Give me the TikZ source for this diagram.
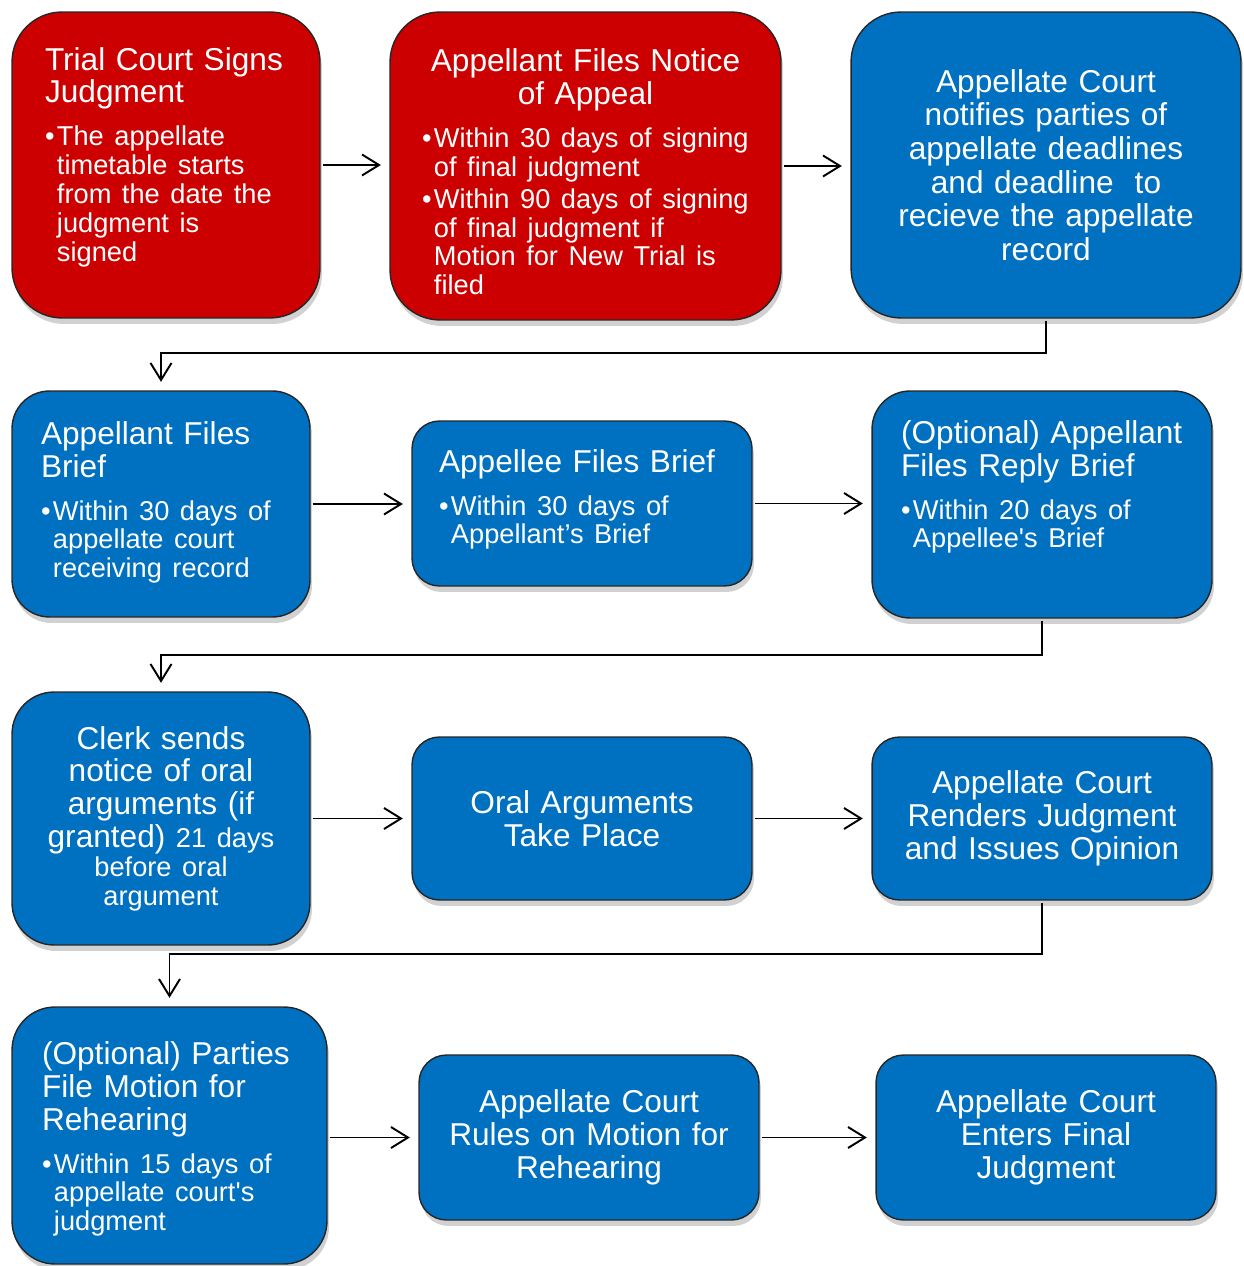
\documentclass[tikz,border=0pt]{standalone}
\usepackage{fontspec}
\setmainfont{Liberation Sans}
\usepackage{tikz}
\usetikzlibrary{arrows.meta,positioning,shadows}
\definecolor{courtred}{HTML}{CC0000}
\definecolor{courtblue}{HTML}{0070C0}
\newcommand{\ttlfont}{\fontsize{18}{18.7}\selectfont}
\newcommand{\bulfont}{\fontsize{15.5}{16.4}\selectfont}
\newcommand{\bul}[1]{\noindent\makebox[6.8pt][l]{\textbullet}\begin{tabular}[t]{@{}l@{}}#1\end{tabular}\par}
\tikzset{%
	stage/.style     = {draw=black!85, line width=0.8pt, rectangle, text=white, inner ysep=0pt, font=\ttlfont,
	                    drop shadow={shadow xshift=0.04cm, shadow yshift=-0.12cm, opacity=0.3, fill=black!60}},
	redstage/.style  = {stage, fill=courtred, align=left},
	bluestage/.style = {stage, fill=courtblue, align=left},
	midstage/.style  = {stage, fill=courtblue, align=center},
	arrow/.style     = {line width=1.1pt, -{Straight Barb[length=0.34cm,width=0.42cm]}, shorten >=0.17cm, shorten <=0.04cm},
}
\begin{document}
\begin{tikzpicture}[x=0.02cm,y=-0.02cm]
	\useasboundingbox (0,0) rectangle (1243,1266);
	
	% row 1
	\node[redstage, minimum width=6.16cm, minimum height=6.12cm, text width=4.84cm, inner xsep=0.66cm, rounded corners=1cm] (judgment) at (166,165)
	{{\ttlfont Trial Court Signs\\Judgment\par}\vspace{8pt}
	 {\bulfont\bul{The appellate\\timetable starts\\from the date the\\judgment is\\signed}}\vspace{0.26cm}};
	\node[redstage, minimum width=7.82cm, minimum height=6.16cm, text width=6.54cm, inner xsep=0.64cm, rounded corners=1cm] (notice) at (585.5,166)
	{{\centering\ttlfont Appellant Files Notice\\of Appeal\par}\vspace{8pt}
	 {\bulfont\bul{Within 30 days of signing\\of final judgment}}\vspace{1pt}
	 {\bulfont\bul{Within 90 days of signing\\of final judgment if\\Motion for New Trial is\\filed}}\vspace{-0.4cm}};
	\node[midstage, minimum width=7.8cm, minimum height=6.12cm, text width=6.8cm, inner xsep=0.5cm, rounded corners=1cm, font=\fontsize{18}{19.1}\selectfont] (record) at (1046,165)
	{Appellate Court\\notifies parties of\\appellate deadlines\\and deadline\ \ to\\recieve the appellate\\record};
	
	% row 2
	\node[bluestage, minimum width=5.96cm, minimum height=4.52cm, text width=4.8cm, inner xsep=0.58cm, rounded corners=0.75cm] (appbrief) at (161,504)
	{{\ttlfont Appellant Files\\Brief\par}\vspace{8pt}
	 {\bulfont\bul{Within 30 days of\\appellate court\\receiving record}}};
	\node[bluestage, minimum width=6.8cm, minimum height=3.3cm, text width=5.72cm, inner xsep=0.54cm, rounded corners=0.55cm] (apebrief) at (582,503.5)
	{{\ttlfont Appellee Files Brief\par}\vspace{8pt}
	 {\bulfont\bul{Within 30 days of\\Appellant’s Brief}}\vspace{0.1cm}};
	\node[bluestage, minimum width=6.8cm, minimum height=4.54cm, text width=5.64cm, inner xsep=0.58cm, rounded corners=0.76cm] (replybrief) at (1042,504.5)
	{{\ttlfont (Optional) Appellant\\Files Reply Brief\par}\vspace{8pt}
	 {\bulfont\bul{Within 20 days of\\Appellee\textquotesingle s Brief}}\vspace{0.64cm}};
	
	% row 3
	\node[midstage, minimum width=5.96cm, minimum height=5.06cm, text width=5.4cm, inner xsep=0.28cm, rounded corners=0.84cm] (oralnotice) at (161,818.5)
	{Clerk sends\\notice of oral\\arguments (if\\granted) {\bulfont 21 days}\par{\bulfont before oral\\argument\par}};
	\node[midstage, minimum width=6.8cm, minimum height=3.26cm, text width=6.2cm, inner xsep=0.3cm, rounded corners=0.55cm] (oralargs) at (582,818.5)
	{Oral Arguments\\Take Place};
	\node[midstage, minimum width=6.8cm, minimum height=3.26cm, text width=6.2cm, inner xsep=0.3cm, rounded corners=0.55cm] (opinion) at (1042,818.5)
	{Appellate Court\\Renders Judgment\\and Issues Opinion};
	
	% row 4
	\node[bluestage, minimum width=6.3cm, minimum height=5.14cm, text width=5.1cm, inner xsep=0.6cm, rounded corners=0.86cm] (rehearing) at (169.5,1135.5)
	{{\ttlfont (Optional) Parties\\File Motion for\\Rehearing\par}\vspace{8pt}
	 {\bulfont\bul{Within 15 days of\\appellate court\textquotesingle s\\judgment}}\vspace{-0.2cm}};
	\node[midstage, minimum width=6.8cm, minimum height=3.3cm, text width=6.2cm, inner xsep=0.3cm, rounded corners=0.55cm] (ruling) at (589,1137.5)
	{Appellate Court\\Rules on Motion for\\Rehearing};
	\node[midstage, minimum width=6.8cm, minimum height=3.3cm, text width=6.2cm, inner xsep=0.3cm, rounded corners=0.55cm] (final) at (1046,1137.5)
	{Appellate Court\\Enters Final\\Judgment};
	
	% connectors
	\draw[arrow] (judgment.east) -- (judgment.east -| notice.west);
	\draw[arrow] (notice.east) -- (notice.east -| record.west);
	\draw[arrow] (record.south) -- ++(0,34) -| (appbrief.north);
	\draw[arrow] (appbrief.east) -- (appbrief.east -| apebrief.west);
	\draw[arrow] (apebrief.east) -- (apebrief.east -| replybrief.west);
	\draw[arrow] (replybrief.south) -- ++(0,36) -| (oralnotice.north);
	\draw[arrow] (oralnotice.east) -- (oralnotice.east -| oralargs.west);
	\draw[arrow] (oralargs.east) -- (oralargs.east -| opinion.west);
	\draw[arrow] (opinion.south) -- ++(0,53) -| (rehearing.north);
	\draw[arrow] (ruling.west -| rehearing.east) -- (ruling.west);
	\draw[arrow] (ruling.east) -- (ruling.east -| final.west);
	
\end{tikzpicture}
\end{document}
